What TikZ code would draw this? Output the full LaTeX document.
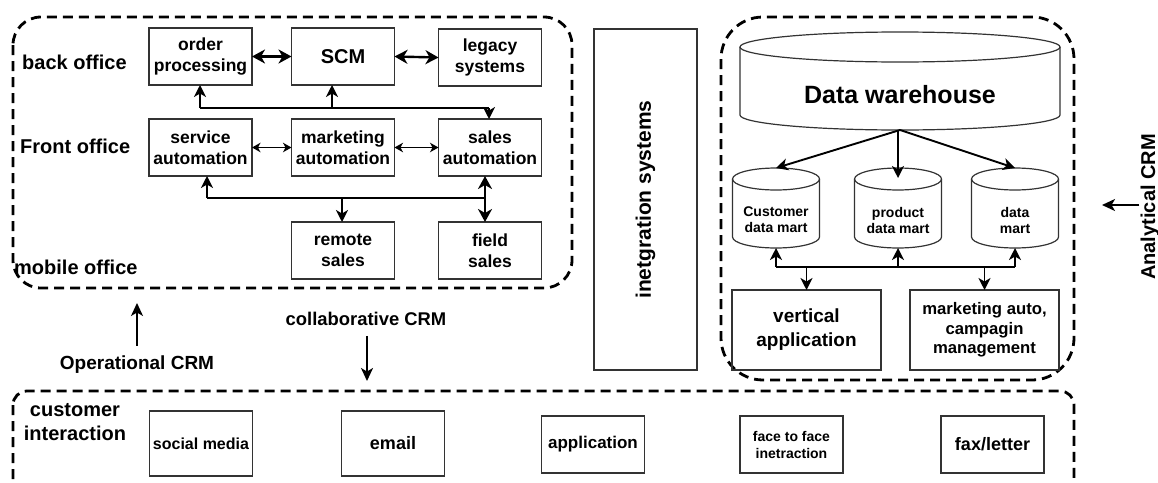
\documentclass[tikz,border=0pt]{standalone}
\usepackage{fontspec}
\setmainfont{Liberation Sans}
\usetikzlibrary{arrows.meta,calc}

% outline of a vertical cylinder drawn around an empty node
\newcommand{\cylinderoutline}[3]{% node, x radius, y radius
  \draw[cyl] ([yshift=-#3]#1.north west) -- ([yshift=#3]#1.south west)
    arc[start angle=180, end angle=360, x radius=#2, y radius=#3]
    -- ([yshift=-#3]#1.north east);
  \draw[cyl] ([yshift=-#3]#1.north) ellipse [x radius=#2, y radius=#3];
}

\begin{document}
\begin{tikzpicture}[x=1pt,y=-1pt,
  box/.style={draw=black!80, line width=1.3pt, minimum width=103pt, minimum height=57pt,
    inner sep=1pt, outer sep=0pt, align=center, font=\bfseries\fontsize{17.5}{21}\selectfont},
  tag/.style={inner sep=0pt, align=center, font=\bfseries\fontsize{20}{24}\selectfont},
  region/.style={draw=black, line width=2.8pt, dash pattern=on 10pt off 6pt},
  shell/.style={inner sep=0pt, outer sep=0pt},
  cyl/.style={draw=black!80, line width=1.2pt},
  hv/.style={line width=2.4pt, >={Stealth[length=13pt,width=14pt,inset=4pt]}},
  bs/.style={line width=1.9pt, >={Stealth[length=12pt,width=12pt,inset=3.5pt]}},
  fn/.style={line width=1.1pt, >={Stealth[length=8.5pt,width=9.5pt,inset=2.5pt]}},
  callout/.style={line width=1.8pt, >={Stealth[length=13pt,width=12pt,inset=3.5pt]}},
]
\useasboundingbox (0,0) rectangle (1158,482);
\clip (0,0) rectangle (1158,482);
\fill[white] (0,0) rectangle (1158,482);

% dashed groups
\draw[region, rounded corners=28pt] (13,17) rectangle (572,288);
\draw[region, rounded corners=42pt] (721,17) rectangle (1074,380);
\draw[region, rounded corners=14pt] (13,391) rectangle (1074,493);

% operational side
\node[tag, anchor=west] (bo) at (22,62) {back office};
\node[tag, anchor=west] (fo) at (20,146) {Front office};
\node[tag, anchor=west] (mo) at (14,267) {mobile office};

\node[box] (op) at (200.5,56.5) {order\\processing};
\node[box, font=\bfseries\fontsize{20}{24}\selectfont] (scm) at (343,56.5) {SCM};
\node[box] (leg) at (490,57.5) {legacy\\systems};
\node[box] (sa) at (200.5,147.5) {service\\automation};
\node[box] (ma) at (343,147.5) {marketing\\automation};
\node[box] (sla) at (490,147.5) {sales\\automation};
\node[box] (rs) at (343,250.5) {remote\\sales};
\node[box] (fs) at (490,250.5) {field\\sales};

\draw[hv,<->] (op.east) -- (scm.west);
\draw[hv,<->] (scm.east) -- (leg.west);
\draw[fn,<->] (sa.east) -- (ma.west);
\draw[fn,<->] (ma.east) -- (sla.west);

\coordinate (b1l) at (200,108);
\coordinate (b1m) at (332,108);
\coordinate (b1r) at (489,108);
\draw[bs] (b1l) -- (b1r);
\draw[bs,->] (b1l) -- (b1l |- op.south);
\draw[bs,->] (b1m) -- (b1m |- scm.south);
\draw[bs,->] (b1r) -- (b1r |- sla.north);

\coordinate (b2l) at (207,198);
\coordinate (b2m) at (342,198);
\coordinate (b2r) at (485,198);
\draw[bs] (b2l) -- (b2r);
\draw[bs,->] (b2l) -- (b2l |- sa.south);
\draw[bs,->] (b2m) -- (b2m |- rs.north);
\draw[hv,<->] (b2r |- sla.south) -- (b2r |- fs.north);

% integration layer
\node[box, rotate=90, minimum width=341pt, minimum height=103pt,
  font=\bfseries\fontsize{21}{25}\selectfont] (integ) at (645.5,199.5) {inetgration systems};

% analytical side
\node[shell, minimum width=320pt, minimum height=98pt,
  label={[font=\bfseries\fontsize{25}{30}\selectfont, yshift=-14pt]center:Data warehouse}] (dw) at (900,81) {};
\cylinderoutline{dw}{160pt}{15pt}

\node[shell, minimum width=87pt, minimum height=80pt,
  label={[align=center, font=\bfseries\fontsize{14}{16}\selectfont, yshift=-12pt]center:Customer\\data mart}] (cdm) at (776,208) {};
\node[shell, minimum width=87pt, minimum height=80pt,
  label={[align=center, font=\bfseries\fontsize{14}{16}\selectfont, yshift=-12pt]center:product\\data mart}] (pdm) at (898,208) {};
\node[shell, minimum width=87pt, minimum height=80pt,
  label={[align=center, font=\bfseries\fontsize{14}{16}\selectfont, yshift=-12pt]center:data\\mart}] (dm) at (1015,208) {};
\cylinderoutline{cdm}{43.5pt}{11pt}
\cylinderoutline{pdm}{43.5pt}{11pt}
\cylinderoutline{dm}{43.5pt}{11pt}

\draw[bs,->] (dw.south) -- (cdm.north);
\draw[bs,->] (pdm.north |- dw.south) -- ([yshift=-10pt]pdm.north);
\draw[bs,->] (dw.south) -- (dm.north);

\node[box, minimum width=149pt, minimum height=80pt,
  font=\bfseries\fontsize{19}{24}\selectfont] (va) at (806.5,330) {vertical\\application};
\node[box, minimum width=149pt, minimum height=80pt,
  font=\bfseries\fontsize{16.7}{19.5}\selectfont] (mk) at (984.5,330) {marketing auto,\\campagin\\management};

\coordinate (mbl) at (776,267);
\coordinate (mbr) at (1015,267);
\draw[bs] (mbl) -- (mbr);
\draw[bs,->] (mbl) -- (cdm.south);
\draw[bs,->] (pdm.south |- mbl) -- (pdm.south);
\draw[bs,->] (mbr) -- (dm.south);
\draw[bs,->] (va.north |- mbl) -- (va.north);
\draw[bs,->] (mk.north |- mbl) -- (mk.north);

% captions
\node[tag, font=\bfseries\fontsize{19}{23}\selectfont] (opc) at (137,365) {Operational CRM};
\coordinate (opup) at (137,303);
\draw[callout,->,shorten <=10pt] (opc.north) -- (opup);

\node[tag, font=\bfseries\fontsize{18.4}{22}\selectfont] (col) at (366,319) {collaborative CRM};
\coordinate (coldn) at (367,381);
\draw[callout,->,shorten <=10pt] (col.south -| coldn) -- (coldn);

\node[tag, rotate=90] (acrm) at (1150,207) {Analytical CRM};
\coordinate (aleft) at (1102,205);
\draw[callout,->,shorten <=1pt] (acrm.north |- aleft) -- (aleft);

% customer interaction channels
\node[tag] (ci) at (75,422) {customer\\interaction};
\node[box, minimum height=65pt, font=\bfseries\fontsize{16}{19}\selectfont] (sm) at (201,443.5) {social media};
\node[box, minimum height=65pt, font=\bfseries\fontsize{18}{21}\selectfont] (em) at (393,443.5) {email};
\node[box, font=\bfseries\fontsize{17}{20}\selectfont] (ap) at (593,444.5) {application};
\node[box, font=\bfseries\fontsize{14}{17}\selectfont] (ff) at (791.5,444.5) {face to face\\inetraction};
\node[box, font=\bfseries\fontsize{18}{21}\selectfont] (fx) at (992.5,444.5) {fax/letter};
\end{tikzpicture}
\end{document}
